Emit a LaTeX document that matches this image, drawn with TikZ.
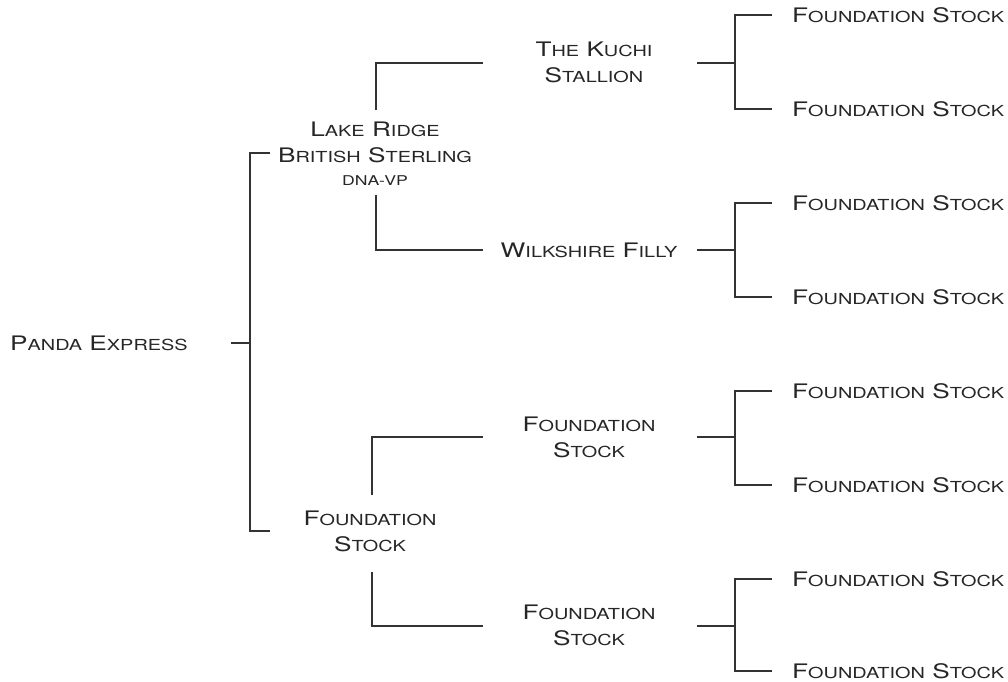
\documentclass[tikz,border=0pt]{standalone}
\usepackage{fontspec}
\newfontfamily\cg[FakeStretch=1.31]{TeX Gyre Heros}
\newcommand\sm[1]{{\fontsize{15.2}{20}\selectfont\uppercase{#1}}}
\newcommand\tn[1]{{\fontsize{13.5}{16}\selectfont\uppercase{#1}}}
\begin{document}
\begin{tikzpicture}[x=1pt,y=-1pt,
  lbl/.style={inner sep=0pt,align=center,font=\cg\fontsize{20}{26}\selectfont,text=black!85},
  con/.style={draw=black!80,line width=1.2pt}]
\useasboundingbox (0,0) rectangle (1008,681);
% texts
\node[lbl,anchor=west] (panda) at (10,343) {P\sm{anda} E\sm{xpress}};
\node[lbl] (lr) at (375,154) {L\sm{ake} R\sm{idge}\\B\sm{ritish} S\sm{terling}\\[-3pt]\tn{dna-vp}};
\node[lbl] (fs1) at (370,531) {F\sm{oundation}\\S\sm{tock}};
\node[lbl] (kuchi) at (594,62) {T\sm{he} K\sm{uchi}\\S\sm{tallion}};
\node[lbl] (wilk) at (589,250) {W\sm{ilkshire} F\sm{illy}};
\node[lbl] (fs2a) at (589,437) {F\sm{oundation}\\S\sm{tock}};
\node[lbl] (fs2b) at (589,625) {F\sm{oundation}\\S\sm{tock}};
\foreach \i/\y in {1/15,2/109,3/203,4/297,5/391,6/485,7/579,8/671}
  \node[lbl,anchor=west] (leaf\i) at (792,\y) {F\sm{oundation} S\sm{tock}};
% coordinates
\coordinate (p0) at (231,343);
\coordinate (pb) at (250,343);
\coordinate (pt) at (270,153);
\coordinate (pbt) at (270,531);
\coordinate (lrT) at (376,110);
\coordinate (lrB) at (376,195);
\coordinate (kuL) at (483,63);
\coordinate (wiL) at (483,250);
\coordinate (fsT) at (372,495);
\coordinate (fsB) at (372,572);
\coordinate (faL) at (483,437);
\coordinate (fbL) at (483,626);
% connectors
\draw[con] (p0) -- (pb);
\draw[con] (pt) -| (pb) |- (pbt);
\draw[con] (lrT) |- (kuL);
\draw[con] (lrB) |- (wiL);
\draw[con] (fsT) |- (faL);
\draw[con] (fsB) |- (fbL);
\foreach \a/\b/\y in {1/2/63,3/4/250,5/6/437,7/8/626}{
  \coordinate (s\a) at (697,\y);
  \coordinate (m\a) at (735,\y);
  \draw[con] (s\a) -- (m\a);
}
\foreach \a/\b in {1/2,3/4,5/6,7/8}{
  \coordinate (e\a) at (772,0 |- leaf\a.west);
  \coordinate (e\b) at (772,0 |- leaf\b.west);
  \draw[con] (e\a) -| (m\a) |- (e\b);
}
\end{tikzpicture}
\end{document}
